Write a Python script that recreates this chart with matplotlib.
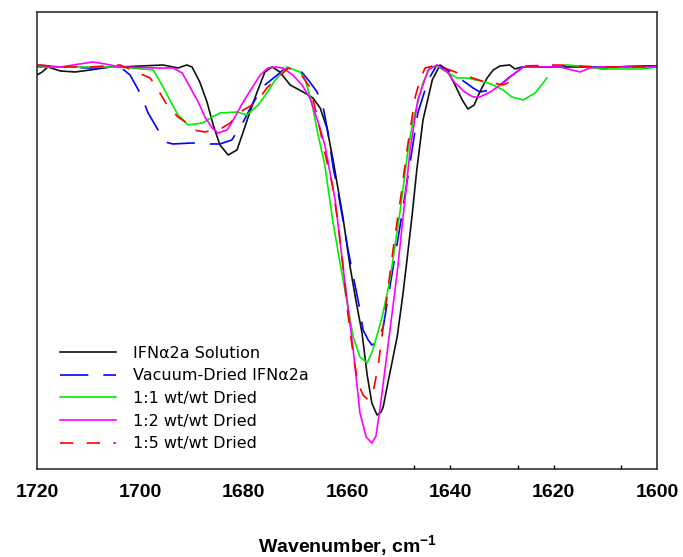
import numpy as np
import matplotlib
matplotlib.use("Agg")
import matplotlib.pyplot as plt

# Second-derivative amide I spectra (arbitrary units), IFN-alpha2a samples
sol_wn = [1720.0, 1719.0, 1717.9, 1715.5, 1712.6, 1709.7, 1705.9, 1703.9, 1695.6, 1692.7,
          1691.0, 1690.0, 1688.5, 1687.1, 1685.9, 1684.6, 1683.0, 1681.3, 1680.1, 1678.8,
          1677.4, 1675.9, 1674.5, 1673.0, 1671.0, 1668.5, 1666.6, 1665.2, 1663.9, 1662.7,
          1661.7, 1660.8, 1659.4, 1658.3, 1657.1, 1656.1, 1655.2, 1654.2, 1653.4, 1653.0,
          1652.1, 1650.3, 1649.2, 1648.4, 1647.4, 1646.5, 1645.3, 1643.5, 1642.0, 1640.6,
          1639.1, 1637.7, 1636.6, 1635.4, 1634.3, 1632.9, 1631.7, 1630.4, 1628.5, 1627.5,
          1626.1, 1618.8, 1613.0, 1610.1, 1609.1, 1600.0]
sol_val = [-0.08, -0.05, 0.00, -0.04, -0.05, -0.03, 0.00, 0.00, 0.02, -0.01,
           0.02, 0.00, -0.15, -0.35, -0.58, -0.78, -0.88, -0.83, -0.65, -0.45,
           -0.25, -0.05, 0.00, -0.05, -0.18, -0.25, -0.31, -0.41, -0.61, -0.93,
           -1.23, -1.50, -2.00, -2.33, -2.66, -3.08, -3.36, -3.48, -3.45, -3.40,
           -3.16, -2.70, -2.28, -1.93, -1.48, -1.03, -0.53, -0.13, 0.02, -0.03,
           -0.18, -0.33, -0.42, -0.38, -0.25, -0.11, -0.03, 0.01, 0.02, -0.02,
           0.00, 0.00, 0.00, -0.02, 0.00, 0.01]

vac_wn = [1720.0, 1715.5, 1709.7, 1703.9, 1702.0, 1700.6, 1699.7, 1698.5, 1696.8, 1695.2,
          1693.7, 1690.0, 1686.9, 1684.6, 1682.3, 1680.1, 1678.2, 1675.9, 1673.5, 1672.4,
          1671.0, 1669.1, 1667.2, 1665.8, 1664.6, 1663.7, 1662.7, 1661.7, 1659.8, 1657.5,
          1656.9, 1655.9, 1655.2, 1654.2, 1653.0, 1651.1, 1649.7, 1647.8, 1646.3, 1644.3,
          1642.6, 1640.6, 1638.7, 1637.2, 1635.6, 1634.3, 1632.3, 1630.4, 1628.5, 1625.9,
          1611.0, 1600.0]
vac_val = [0.00, 0.00, -0.01, 0.00, -0.08, -0.21, -0.30, -0.46, -0.61, -0.75,
           -0.77, -0.76, -0.77, -0.77, -0.73, -0.55, -0.36, -0.18, -0.08, -0.03,
           -0.01, -0.03, -0.15, -0.25, -0.41, -0.65, -1.00, -1.26, -1.83, -2.43,
           -2.63, -2.73, -2.78, -2.75, -2.60, -2.01, -1.58, -0.96, -0.46, -0.13,
           0.02, -0.03, -0.10, -0.15, -0.21, -0.25, -0.23, -0.18, -0.10, 0.00,
           0.00, 0.01]

r11_wn = [1720.0, 1715.5, 1707.8, 1703.9, 1697.5, 1695.6, 1694.3, 1692.7, 1690.8, 1687.9,
          1686.1, 1684.6, 1681.3, 1679.4, 1677.2, 1675.5, 1673.9, 1671.6, 1669.1, 1668.1,
          1666.8, 1665.6, 1664.3, 1662.7, 1661.0, 1658.8, 1657.5, 1656.1, 1655.0, 1653.2,
          1651.7, 1649.7, 1648.2, 1647.2, 1645.3, 1643.9, 1642.6, 1641.4, 1638.7, 1636.8,
          1633.3, 1631.7, 1629.8, 1628.1, 1625.9, 1623.6, 1621.3, np.nan,
          1618.8, 1617.4, 1613.0, 1611.0, 1604.6, 1602.7, 1600.0]
r11_val = [0.00, 0.00, 0.00, 0.00, -0.03, -0.20, -0.33, -0.48, -0.58, -0.56,
           -0.50, -0.46, -0.45, -0.48, -0.38, -0.26, -0.13, 0.00, -0.05, -0.13,
           -0.36, -0.68, -0.98, -1.56, -2.06, -2.70, -2.90, -2.96, -2.83, -2.50,
           -2.13, -1.43, -0.83, -0.53, -0.16, 0.00, 0.01, -0.03, -0.11, -0.11,
           -0.15, -0.18, -0.23, -0.30, -0.33, -0.26, -0.11, np.nan,
           0.01, 0.02, 0.00, -0.02, -0.02, -0.02, 0.00]

r12_wn = [1720.0, 1719.4, 1715.5, 1711.7, 1709.2, 1706.8, 1703.9, 1696.8, 1693.7, 1691.9,
          1690.4, 1688.8, 1687.5, 1686.1, 1685.0, 1683.2, 1681.7, 1680.1, 1678.4, 1676.8,
          1675.3, 1673.9, 1672.4, 1670.5, 1668.7, 1667.2, 1665.6, 1664.3, 1662.3, 1660.4,
          1658.8, 1657.5, 1656.3, 1655.2, 1654.4, 1653.6, 1652.3, 1650.3, 1648.8, 1647.8,
          1646.3, 1644.3, 1642.6, 1640.6, 1639.1, 1637.2, 1635.6, 1634.3, 1632.3, 1629.8,
          1627.9, 1625.9, 1618.8, 1614.9, 1613.0, 1611.0, 1600.0]
r12_val = [0.01, 0.02, 0.00, 0.03, 0.05, 0.03, 0.00, -0.01, -0.01, -0.06,
           -0.20, -0.35, -0.50, -0.61, -0.66, -0.63, -0.50, -0.35, -0.21, -0.08,
           -0.01, 0.00, -0.01, -0.08, -0.18, -0.31, -0.55, -0.78, -1.33, -2.16,
           -2.83, -3.46, -3.70, -3.76, -3.69, -3.41, -2.88, -2.06, -1.33, -0.83,
           -0.33, -0.03, 0.02, -0.05, -0.16, -0.25, -0.30, -0.30, -0.25, -0.16,
           -0.08, 0.00, 0.00, -0.05, -0.01, 0.00, 0.00]

r15_wn = [1720.0, 1715.5, 1709.7, 1703.9, 1698.1, 1696.8, 1694.6, 1692.7, 1691.0, 1689.8,
          1687.5, 1684.2, 1682.6, 1680.7, 1678.4, 1676.8, 1675.5, 1673.9, 1672.4, 1671.4,
          1669.1, 1667.2, 1665.6, 1664.3, 1662.9, 1661.7, 1660.8, 1659.8, 1658.8, 1657.9,
          1656.9, 1655.9, 1655.0, 1654.0, 1652.6, 1651.1, 1649.4, 1648.4, 1646.8, 1645.9,
          1644.9, 1642.6, 1640.1, 1637.5, 1633.9, 1631.7, 1629.8, 1628.5, 1626.9, np.nan,
          1625.5, 1619.4, 1611.0, 1600.0]
r15_val = [0.02, 0.00, 0.00, 0.02, -0.11, -0.21, -0.40, -0.50, -0.56, -0.63,
           -0.65, -0.61, -0.56, -0.45, -0.38, -0.30, -0.21, -0.13, -0.06, -0.01,
           -0.06, -0.20, -0.53, -0.86, -1.16, -1.58, -1.98, -2.48, -2.88, -3.16,
           -3.28, -3.33, -3.26, -3.00, -2.43, -1.83, -1.23, -0.83, -0.30, -0.13,
           -0.01, 0.02, -0.03, -0.08, -0.14, -0.16, -0.18, -0.15, -0.11, np.nan,
           0.01, 0.02, 0.00, 0.00]

labels = ["IFNα2a Solution", "Vacuum-Dried IFNα2a", "1:1 wt/wt Dried",
          "1:2 wt/wt Dried", "1:5 wt/wt Dried"]
x_ticks = [1720, 1700, 1680, 1660, 1640, 1620, 1600]
minor_ticks = [1647, 1640, 1627, 1620, 1607]

plt.rcParams["mathtext.default"] = "regular"

fig = plt.figure(figsize=(6.83, 5.57), dpi=100)
ax = fig.add_axes([0.0542, 0.158, 0.9078, 0.8205])

lw = 1.2
ax.plot(sol_wn, sol_val, color="#111111", lw=lw, label=labels[0])
ax.plot(vac_wn, vac_val, color="#0000ff", lw=lw, dashes=(17, 9), label=labels[1])
ax.plot(r11_wn, r11_val, color="#00ee00", lw=lw, label=labels[2])
ax.plot(r12_wn, r12_val, color="#ff00ff", lw=lw, label=labels[3])
ax.plot(r15_wn, r15_val, color="#ff0000", lw=lw, dashes=(8, 8), label=labels[4])

ax.set_xlim(1720, 1600)
ax.set_ylim(-4.02, 0.55)
ax.set_yticks([])

ax.set_xticks(x_ticks)
ax.set_xticklabels([str(t) for t in x_ticks], fontfamily="Liberation Sans",
                   fontweight="bold", fontsize=14)
ax.set_xticks(minor_ticks, minor=True)
ax.xaxis.remove_overlapping_locs = False
ax.tick_params(axis="x", which="major", length=0, pad=11)
ax.tick_params(axis="x", which="minor", direction="in", length=3, width=1)

ax.set_xlabel("Wavenumber, cm$^{-1}$", fontfamily="Liberation Sans",
              fontweight="bold", fontsize=14, labelpad=23)

for sp in ax.spines.values():
    sp.set_linewidth(1.1)
    sp.set_color("#222222")

ax.legend(loc="upper left", bbox_to_anchor=(0.037, 0.27), frameon=False,
          borderpad=0, borderaxespad=0, handlelength=3.5, handletextpad=1.1,
          labelspacing=0.48, prop={"family": "DejaVu Sans", "size": 11.5})

fig.savefig("out.png", dpi=100)
